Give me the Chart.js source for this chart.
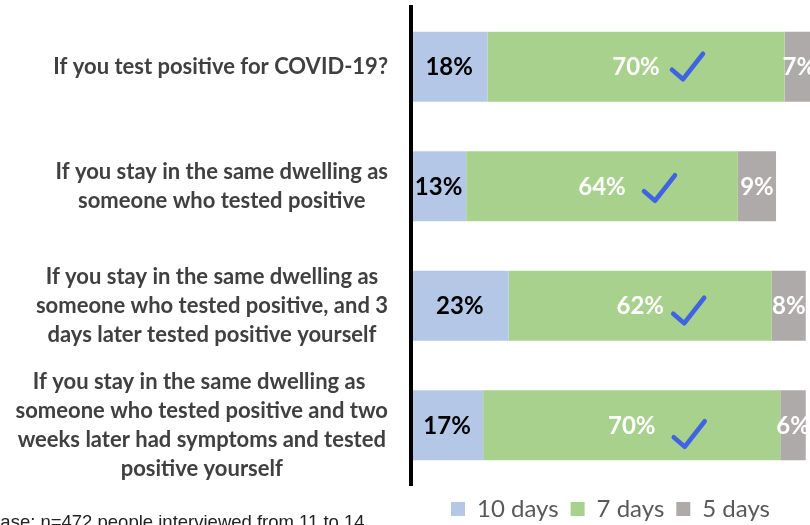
<!DOCTYPE html>
<html>
<head>
<meta charset="utf-8">
<script src="https://cdn.jsdelivr.net/npm/chart.js@4.4.0/dist/chart.umd.min.js"></script>
<style>
  html, body { margin: 0; padding: 0; background: #fff; }
  #wrap { position: relative; width: 810px; height: 525px; overflow: hidden; }
  #note {
    position: absolute; left: -12px; top: 511px; white-space: nowrap;
    font: 18.5px "Liberation Sans", Arial, sans-serif; color: #222;
  }
</style>
</head>
<body>
<div id="wrap">
  <canvas id="chart"></canvas>
  <div id="note">Base: n=472 people interviewed from 11 to 14</div>
</div>
<script>
const questions = [
  ["If you test positive for COVID-19?"],
  ["If you stay in the same dwelling as", "someone who tested positive"],
  ["If you stay in the same dwelling as", "someone who tested positive, and 3", "days later tested positive yourself"],
  ["If you stay in the same dwelling as ", "someone who tested positive and two", "weeks later had symptoms and tested", "positive yourself"]
];
const seriesNames = ["10 days", "7 days", "5 days"];
const tenDays = [18, 13, 23, 17];
const sevenDays = [70, 64, 62, 70];
const fiveDays = [7, 9, 8, 6];

const colors = ["#b4c7e7", "#a9d18e", "#aeaaaa"];
const labelColors = ["#000000", "#ffffff", "#ffffff"];

// question labels: block right-aligned, lines centred inside the block
const questionLabels = {
  id: "questionLabels",
  afterDraw(chart) {
    const { ctx } = chart;
    const y = chart.scales.y;
    ctx.save();
    ctx.font = "bold 22px Lato";
    ctx.fillStyle = "#404040";
    ctx.textAlign = "center";
    ctx.textBaseline = "middle";
    const lh = 29;
    questions.forEach((lines, i) => {
      const cy = y.getPixelForTick(i);
      const w = Math.max(...lines.map(l => ctx.measureText(l).width));
      const cx = 388 - w / 2;
      lines.forEach((l, k) => {
        ctx.fillText(l, cx, cy + (k - (lines.length - 1) / 2) * lh);
      });
    });
    ctx.restore();
  }
};

// percentage labels + tick marks on the 7 days segment
const barLabels = {
  id: "barLabels",
  afterDatasetsDraw(chart, args, opts) {
    const { ctx } = chart;
    ctx.save();
    ctx.font = "bold 24px Lato";
    ctx.textAlign = "center";
    ctx.textBaseline = "middle";
    chart.data.datasets.forEach((ds, di) => {
      const meta = chart.getDatasetMeta(di);
      meta.data.forEach((bar, i) => {
        const cx = (bar.x + bar.base) / 2;
        ctx.fillStyle = labelColors[di];
        ctx.fillText(ds.data[i] + "%", cx, bar.y + 1);
        if (di === 1) {
          const [dx, dy] = opts.checkOffsets[i];
          const sx = cx + dx, sy = bar.y + dy;
          ctx.beginPath();
          ctx.moveTo(sx, sy);
          ctx.lineTo(sx + 11, sy + 9.5);
          ctx.lineTo(sx + 31, sy - 16);
          ctx.strokeStyle = "#3f63e3";
          ctx.lineWidth = 4.5;
          ctx.lineCap = "round";
          ctx.lineJoin = "round";
          ctx.stroke();
        }
      });
    });
    ctx.restore();
  }
};

new Chart(document.getElementById("chart"), {
  type: "bar",
  data: {
    labels: questions,
    datasets: [
      { label: seriesNames[0], data: tenDays, backgroundColor: colors[0] },
      { label: seriesNames[1], data: sevenDays, backgroundColor: colors[1] },
      { label: seriesNames[2], data: fiveDays, backgroundColor: colors[2] }
    ]
  },
  options: {
    indexAxis: "y",
    responsive: true,
    maintainAspectRatio: false,
    animation: false,
    layout: { padding: { top: 7, bottom: -6, left: 0, right: 0 } },
    datasets: {
      bar: { barPercentage: 0.586, categoryPercentage: 1, borderWidth: 0 }
    },
    scales: {
      x: { stacked: true, min: 0, max: 94, display: false },
      y: {
        stacked: true,
        grid: { display: false },
        ticks: { display: false },
        border: { display: true, color: "#000000", width: 4, z: 1 },
        afterFit: s => { s.width = 411; }
      }
    },
    plugins: {
      tooltip: { enabled: false },
      legend: {
        position: "bottom",
        fullSize: false,
        labels: {
          boxWidth: 14,
          boxHeight: 14,
          padding: 12,
          color: "#595959",
          font: { family: "Lato", size: 24, lineHeight: 1 }
        }
      },
      barLabels: { checkOffsets: [[36, 3], [42, 5], [33, 8], [42, 12]] }
    }
  },
  plugins: [questionLabels, barLabels]
});
</script>
</body>
</html>
